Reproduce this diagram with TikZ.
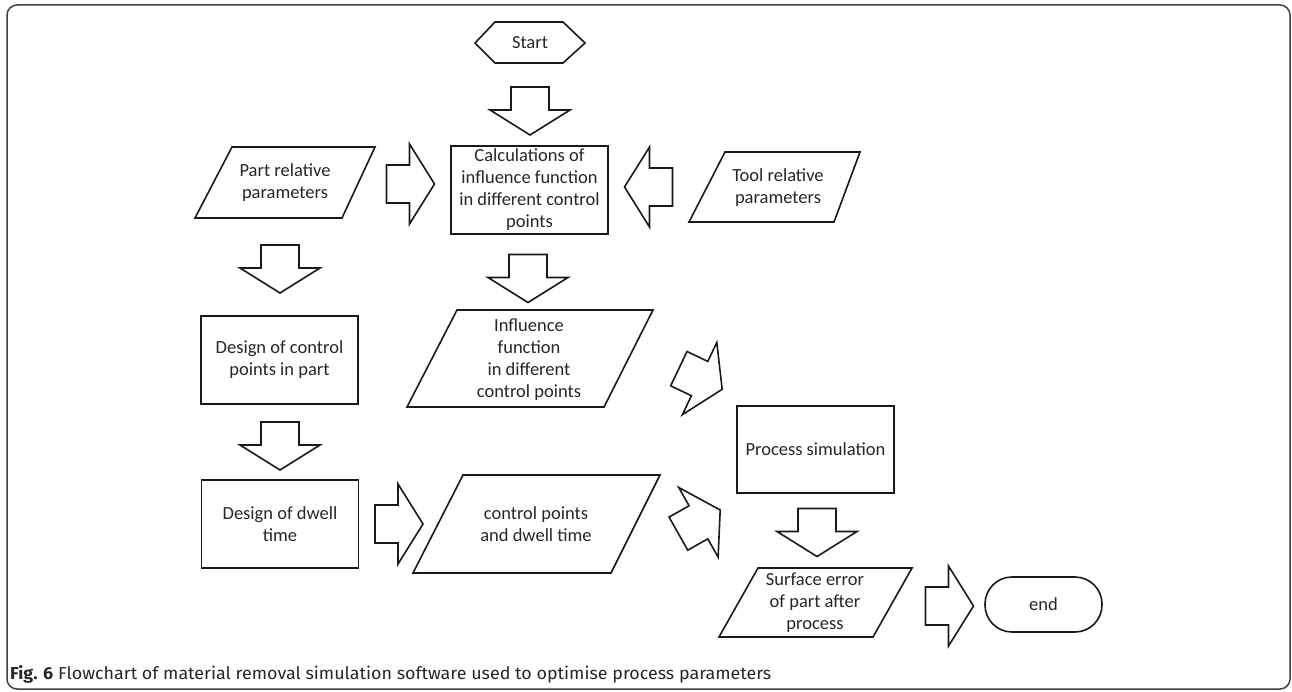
\documentclass[tikz,border=0pt]{standalone}
\usepackage{fontspec}
\setmainfont{Carlito}
\newfontfamily\capfont{Fira Sans}
\usetikzlibrary{calc}
\begin{document}
\begin{tikzpicture}[x=1pt,y=-1pt,
  shapeline/.style={draw=black!90, line width=1.6pt, line join=miter},
  lbl/.style={text=black!85, font=\fontsize{18.5}{22}\selectfont, align=center, inner sep=0pt},
  boxnode/.style={lbl, shapeline, minimum width=157pt, minimum height=88pt},
  blockarr/.pic={\draw[shapeline] (-24,-19) -- (-1,-19) -- (-1,-40) -- (24,0) -- (-1,40) -- (-1,19) -- (-24,19) -- cycle;}
]
\useasboundingbox (0,0) rectangle (1292,692);
% frame
\draw[draw=black!75, line width=1.5pt, rounded corners=10pt] (7,5) rectangle (1290,689);

% Start
\node[lbl] (start) at (530,43) {Start};
\draw[shapeline] (475,43) -- (495,22) -- (563,22) -- (585,43) -- (563,63) -- (495,63) -- cycle;

% Calculations box
\node[boxnode] (calc) at (529.5,190) {Calculations of\\influence function\\in different control\\points};

% Part relative parameters
\draw[shapeline] (232,147) -- (375,147) -- (342,218) -- (195,218) -- cycle;
\node[lbl] (part) at (285,183) {Part relative\\parameters};

% Tool relative parameters
\draw[shapeline] (725,152) -- (860,152) -- (834,222) -- (689,222) -- cycle;
\node[lbl] (tool) at (778,188) {Tool relative\\parameters};

% Design of control points
\node[boxnode] (design) at (279.5,360) {Design of control\\points in part};

% Influence function
\draw[shapeline] (457,310) -- (653,310) -- (604,407) -- (407,407) -- cycle;
\node[lbl] (infl) at (529,360) {Influence\\function\\in different\\control points};

% Design of dwell time
\node[boxnode] (dwell) at (280,524) {Design of dwell\\time};

% control points and dwell time
\draw[shapeline] (463,475) -- (660,475) -- (611,573) -- (413,573) -- cycle;
\node[lbl] (cpdt) at (536,524) {control points\\and dwell time};

% Process simulation
\node[boxnode, minimum height=87pt] (proc) at (815.5,449.5) {Process simulation};

% Surface error
\draw[shapeline] (758,568) -- (912,568) -- (873,637) -- (719,637) -- cycle;
\node[lbl] (surf) at (815,603) {Surface error\\of part after\\process};

% end
\node[lbl, shapeline, rounded corners=27pt, minimum width=117pt, minimum height=55pt] (endn) at (1043.5,604.5) {end};

% block arrows
\pic[rotate=-90] (a1) at (530,111) {blockarr};
\pic (a2) at (410.5,184) {blockarr};
\pic[rotate=180] (a3) at (648.5,187) {blockarr};
\pic[rotate=-90] (a4) at (280,269) {blockarr};
\pic[rotate=-90] (a5) at (528,278.5) {blockarr};
\pic[rotate=-90] (a6) at (280,446) {blockarr};
\pic (a7) at (399,524) {blockarr};
\pic[rotate=-25.5] (a8) at (700.5,379) {blockarr};
\pic[rotate=29.5] (a9) at (699.3,521.8) {blockarr};
\pic[rotate=-90] (a10) at (817,532.5) {blockarr};
\pic (a11) at (949.5,606) {blockarr};

% caption
\node[anchor=base west, inner sep=0pt, text=black!85] (cap) at (10,679) {\resizebox{761pt}{14pt}{\capfont\textbf{Fig. 6} Flowchart of material removal simulation software used to optimise process parameters}};
\end{tikzpicture}
\end{document}
